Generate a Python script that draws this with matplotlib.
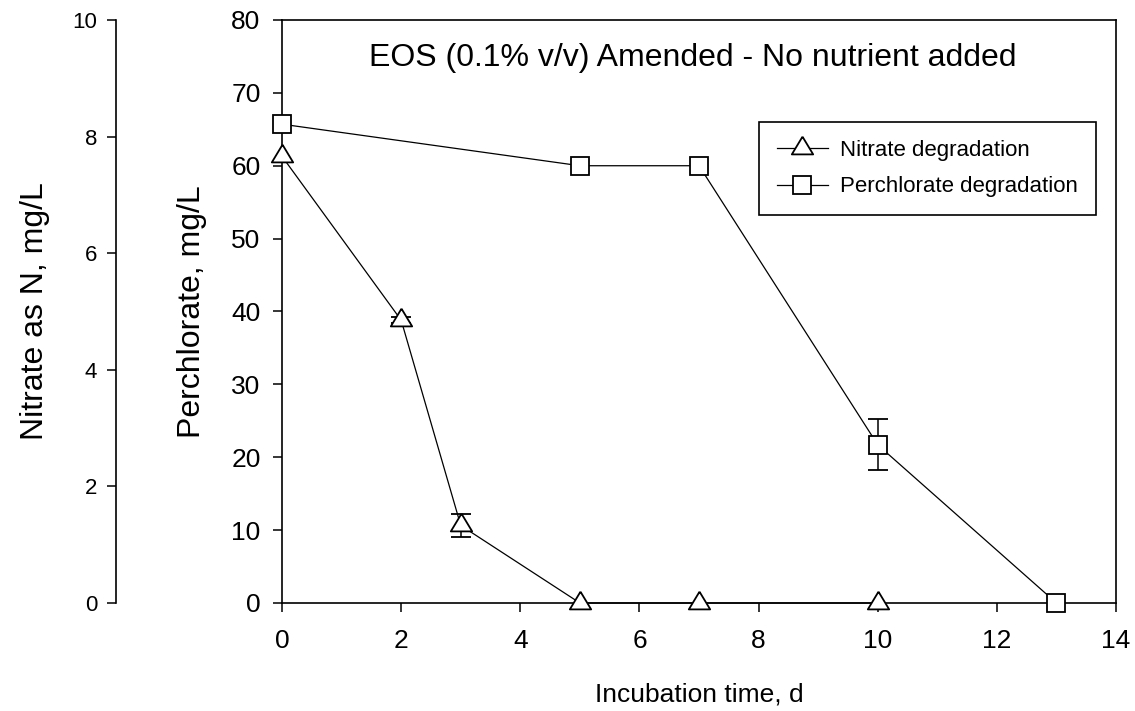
import numpy as np
import matplotlib
matplotlib.use("Agg")
import matplotlib.pyplot as plt

plt.rcParams['font.family'] = ['Liberation Sans', 'DejaVu Sans']

# data
days_nitrate = [0, 2, 3, 5, 7, 10]
nitrate = [7.66, 4.85, 1.33, 0.0, 0.0, 0.0]
nitrate_err = [0.0, 0.05, 0.19, 0.0, 0.0, 0.0]

days_perc = [0, 5, 7, 10, 13]
perchlorate = [65.7, 60.0, 60.0, 21.7, 0.0]
perchlorate_err = [0.0, 0.0, 0.0, 3.5, 0.0]

x_ticks = [0, 2, 4, 6, 8, 10, 12, 14]
perc_ticks = [0, 10, 20, 30, 40, 50, 60, 70, 80]
nitrate_ticks = [0, 2, 4, 6, 8, 10]

# triangle with its centre at the centroid (as SigmaPlot draws it)
tri = [(0, 1.0), (-0.904, -0.5), (0.904, -0.5), (0, 1.0)]

fig = plt.figure(figsize=(11.35, 7.11), dpi=100)
ax = fig.add_axes([0.2485, 0.1519, 0.7348, 0.820])
ax2 = ax.twinx()

# error bars first, under the markers
m = np.array(perchlorate_err) > 0
ax.errorbar(np.array(days_perc)[m], np.array(perchlorate)[m],
            yerr=np.array(perchlorate_err)[m], fmt='none', ecolor='black',
            elinewidth=1.1, capsize=7, capthick=1.3, zorder=2)
m = np.array(nitrate_err) > 0
ax2.errorbar(np.array(days_nitrate)[m], np.array(nitrate)[m],
             yerr=np.array(nitrate_err)[m], fmt='none', ecolor='black',
             elinewidth=1.1, capsize=7, capthick=1.3, zorder=2)

l_perc, = ax.plot(days_perc, perchlorate, color='black', lw=0.9,
                  marker='s', ms=13, mfc='white', mec='black', mew=1.3,
                  clip_on=False, zorder=5)
l_nit, = ax2.plot(days_nitrate, nitrate, color='black', lw=0.9,
                  marker=tri, ms=17, mfc='white', mec='black', mew=1.3,
                  clip_on=False, zorder=5)

# main axes
ax.set_xlim(0, 14)
ax.set_ylim(0, 80)
ax.set_xticks(x_ticks)
ax.set_yticks(perc_ticks)
for s in ax.spines.values():
    s.set_linewidth(1.2)
ax.tick_params(axis='both', direction='out', length=6.5, width=1.1)
ax.tick_params(axis='y', labelsize=19, pad=9)
ax.tick_params(axis='x', labelsize=19, pad=12)
ax.set_xlabel('Incubation time, d', fontsize=19)
ax.xaxis.set_label_coords(0.5, -0.137)
ax.set_ylabel('Perchlorate, mg/L', fontsize=23)
ax.yaxis.set_label_coords(-0.090, 0.5)

# nitrate axis, offset to the left
ax2.set_ylim(0, 10)
ax2.set_yticks(nitrate_ticks)
ax2.spines['right'].set_visible(False)
ax2.spines['top'].set_visible(False)
ax2.spines['bottom'].set_visible(False)
ax2.spines['left'].set_position(('axes', -0.199))
ax2.spines['left'].set_linewidth(1.2)
ax2.yaxis.set_ticks_position('left')
ax2.yaxis.set_label_position('left')
ax2.tick_params(axis='y', direction='out', length=6.5, width=1.1,
                labelsize=16, pad=7)
ax2.set_ylabel('Nitrate as N, mg/L', fontsize=23)
ax2.yaxis.set_label_coords(-0.278, 0.5)

ax.text(0.493, 0.935, 'EOS (0.1% v/v) Amended - No nutrient added',
        transform=ax.transAxes, ha='center', va='center', fontsize=23)

leg = ax2.legend([l_nit, l_perc], ['Nitrate degradation', 'Perchlorate degradation'],
                 loc='upper left', bbox_to_anchor=(0.572, 0.825), borderaxespad=0,
                 fontsize=16, frameon=True, fancybox=False, edgecolor='black',
                 framealpha=1, handlelength=2.3, handletextpad=0.55,
                 borderpad=0.8, labelspacing=0.7)
leg.get_frame().set_linewidth(1.2)

fig.savefig('out.png', dpi=100)
